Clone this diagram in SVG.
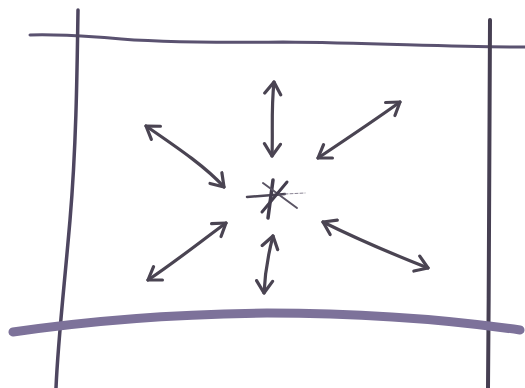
<svg xmlns="http://www.w3.org/2000/svg" width="525" height="388" viewBox="0 0 525 388">
<style>
.frame{fill:none;stroke-linecap:round;stroke-linejoin:round}
.arr{fill:none;stroke:#4a4452;stroke-width:3.2;stroke-linecap:round;stroke-linejoin:round}
.star{fill:none;stroke-linecap:round}
</style>
<defs>
<marker id="head" viewBox="-14 -10 16 20" refX="0" refY="0" markerWidth="16" markerHeight="20" markerUnits="userSpaceOnUse" orient="auto-start-reverse">
<path d="M-12,-8 L0,0 L-12,8" fill="none" stroke="#4a4452" stroke-width="3.2" stroke-linecap="round" stroke-linejoin="round"/>
</marker>
</defs>
<rect width="525" height="388" fill="#ffffff"/>
<g id="frame">
<path class="frame" style="stroke:#5a5270;stroke-width:3" d="M30,35 C60,34 80,36 110,38 C150,42 200,43 283,42 C380,43 450,47 525,47"/>
<path class="frame" style="stroke:#4e4660;stroke-width:3.5" d="M78,10 C77,80 76,150 70,220 C64,290 58,340 56,388"/>
<path class="frame" style="stroke:#463f52;stroke-width:4" d="M490,20 C490,120 489,260 488,388"/>
<path class="frame" style="stroke:#7d729a;stroke-width:9" d="M13,332 C80,322 170,314 267,313 C370,313 450,320 520,330"/>
</g>
<g id="center">
<line class="star" style="stroke:#4c4656;stroke-width:2.5" x1="247" y1="197" x2="285" y2="194"/>
<line class="star" style="stroke:#8a8494;stroke-width:1;stroke-dasharray:3 2" x1="285" y1="194" x2="305" y2="193"/>
<line class="star" style="stroke:#443e4e;stroke-width:3.5" x1="273" y1="180" x2="268" y2="218"/>
<line class="star" style="stroke:#5a5464;stroke-width:2" x1="263" y1="183" x2="297" y2="208"/>
<line class="star" style="stroke:#443e4e;stroke-width:3" x1="287" y1="182" x2="262" y2="212"/>
</g>
<g id="connectors">
<path class="arr" marker-start="url(#head)" marker-end="url(#head)" d="M146,126 C175,146 205,166 224,187"/>
<path class="arr" marker-start="url(#head)" marker-end="url(#head)" d="M274,82 C271,110 273,130 272,156"/>
<path class="arr" marker-start="url(#head)" marker-end="url(#head)" d="M318,158 C345,140 375,120 400,102"/>
<path class="arr" marker-start="url(#head)" marker-end="url(#head)" d="M148,280 C175,262 200,242 226,223"/>
<path class="arr" marker-start="url(#head)" marker-end="url(#head)" d="M273,236 C268,255 265,272 264,293"/>
<path class="arr" marker-start="url(#head)" marker-end="url(#head)" d="M323,222 C355,238 395,255 428,268"/>
</g>
</svg>
